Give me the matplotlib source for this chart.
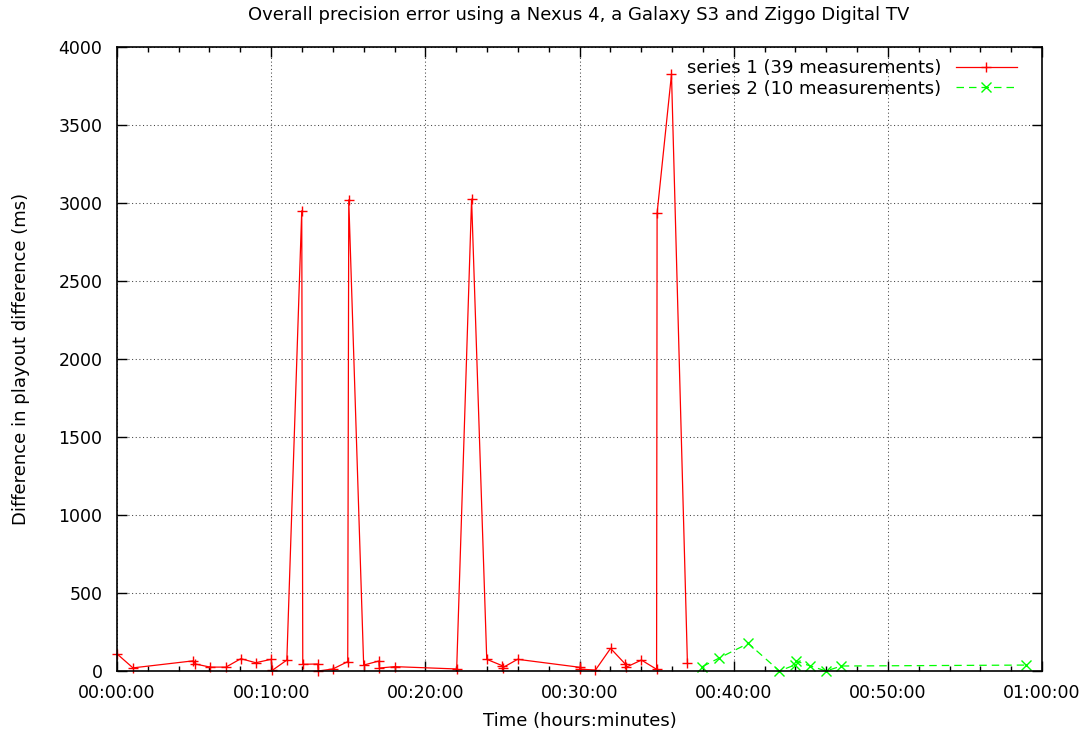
import matplotlib
matplotlib.use("Agg")
import matplotlib.pyplot as plt
from matplotlib.ticker import MultipleLocator, FuncFormatter

# measurements: time since start (seconds) and playout difference (ms)
s1_time = [0, 62, 296, 305, 362, 424, 482, 540, 600, 605,
           661, 719, 723, 781, 783, 840, 898, 902, 960, 1019,
           1021, 1081, 1322, 1380, 1439, 1498, 1502, 1559, 1800, 1802,
           1862, 1921, 1979, 1981, 2041, 2100, 2102, 2158, 2220]
s1_diff = [110, 20, 65, 45, 25, 25, 79, 53, 75, 5,
           70, 2950, 43, 45, 0, 13, 60, 3020, 38, 64,
           19, 28, 13, 3025, 75, 35, 22, 75, 24, 12,
           6, 145, 43, 24, 70, 11, 2935, 3825, 52]

s2_time = [2278, 2341, 2457, 2578, 2640, 2642, 2698, 2760, 2819, 3538]
s2_diff = [28, 81, 177, 0, 40, 65, 32, 0, 32, 38]

s1_label = "series 1 (39 measurements)"
s2_label = "series 2 (10 measurements)"

plt.rcParams['font.family'] = ['DejaVu Sans']
plt.rcParams['font.size'] = 13

fig = plt.figure(figsize=(10.91, 7.40), dpi=100)
ax = fig.add_axes([0.10724, 0.09324, 0.84785, 0.84324])

ax.plot(s1_time, s1_diff, color='#ff0000', lw=0.9, marker='+',
        markersize=7, markeredgewidth=1.0, clip_on=False, label=s1_label)
ax.plot(s2_time, s2_diff, color='#00ff00', lw=0.9, linestyle=(0, (6, 4)),
        marker='x', markersize=6.5, markeredgewidth=1.0, clip_on=False,
        label=s2_label)

ax.set_xlim(0, 3600)
ax.set_ylim(0, 4000)


def hms(sec, pos):
    sec = int(round(sec))
    return "%02d:%02d:%02d" % (sec // 3600, (sec % 3600) // 60, sec % 60)


ax.xaxis.set_major_locator(MultipleLocator(600))
ax.xaxis.set_minor_locator(MultipleLocator(120))
ax.xaxis.set_major_formatter(FuncFormatter(hms))
ax.yaxis.set_major_locator(MultipleLocator(500))

ax.tick_params(which='both', direction='in', top=True, right=True, width=1.0,
               labelsize=12.5)
ax.tick_params(which='major', length=7.2)
ax.tick_params(which='minor', length=3.6)
ax.tick_params(axis='x', pad=9)
ax.tick_params(axis='y', pad=10.5)
for sp in ax.spines.values():
    sp.set_linewidth(1.2)

ax.grid(True, which='major', color='#444444', lw=0.75, linestyle=(0, (1, 2.5)))

ax.set_xlabel("Time (hours:minutes)")
ax.xaxis.set_label_coords(0.5, -0.066)
ax.set_ylabel("Difference in playout difference (ms)")
ax.yaxis.set_label_coords(-0.094, 0.5)

fig.text(0.5302, 1 - 15 / 740, "Overall precision error using a Nexus 4, a Galaxy S3 and Ziggo Digital TV",
         ha='center', va='center')

ax.legend(loc='upper right', bbox_to_anchor=(0.973, 0.981), frameon=False,
          markerfirst=False, numpoints=1, handlelength=3.4, handletextpad=0.8,
          labelspacing=0.15, borderpad=0, borderaxespad=0)

fig.savefig("out.png", dpi=100)
